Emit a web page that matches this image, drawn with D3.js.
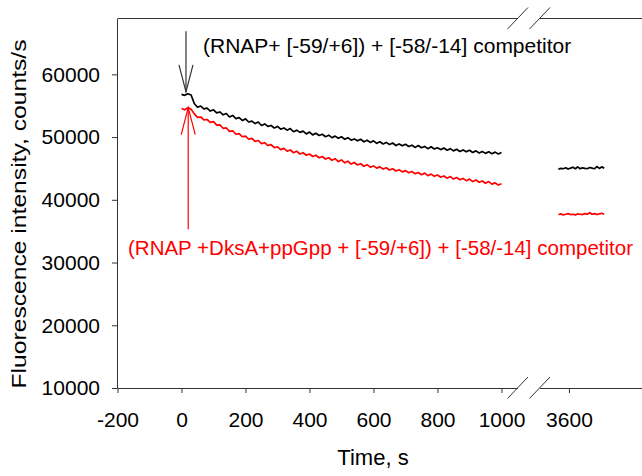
<!DOCTYPE html>
<html>
<head>
<meta charset="utf-8">
<script src="https://cdn.jsdelivr.net/npm/d3@7"></script>
<style>
  body { margin: 0; background: #fff; }
  text { font-family: "Liberation Sans", Arial, sans-serif; }
</style>
</head>
<body>
<div id="chart"></div>
<script>
// sample times for the main trace (every 10 s) and the late-time trace
let main_times = d3.range(0, 1001, 10);
let tail_times = [3567, 3575, 3582, 3590, 3597, 3605, 3612, 3620, 3627, 3635,
                  3642, 3650, 3657, 3665, 3672, 3680, 3687, 3695, 3702, 3710];

// (RNAP+ [-59/+6]) + [-58/-14] competitor
let black_main = [56800, 56650, 56900, 56700, 55350, 54750, 54950, 54500, 54600, 54150,
                  54350, 53850, 54000, 53550, 53750, 53200, 53450, 52950, 53100, 52650,
                  52900, 52400, 52550, 52150, 52400, 51850, 52100, 51700, 51850, 51450,
                  51700, 51250, 51450, 51100, 51350, 50850, 51100, 50750, 50950, 50500,
                  50800, 50350, 50600, 50250, 50450, 50050, 50300, 49900, 50150, 49800,
                  50050, 49650, 49900, 49500, 49700, 49400, 49650, 49250, 49500, 49150,
                  49400, 49000, 49250, 48900, 49150, 48800, 49050, 48650, 48900, 48600,
                  48850, 48500, 48700, 48350, 48650, 48300, 48500, 48150, 48450, 48100,
                  48300, 48000, 48250, 47900, 48150, 47800, 48050, 47700, 47950, 47650,
                  47900, 47550, 47800, 47450, 47700, 47400, 47650, 47350, 47600, 47300,
                  47550];
let black_tail = [44900, 45000, 44950, 45100, 44900, 45050, 45200, 44950, 45250, 44950,
                  45100, 45000, 44950, 45150, 45050, 44950, 45300, 45000, 45250, 45050];

// (RNAP +DksA+ppGpp + [-59/+6]) + [-58/-14] competitor
let red_main = [54550, 54350, 54700, 54450, 53700, 53150, 53200, 52750, 52800, 52350,
                52450, 51900, 51950, 51400, 51450, 50900, 51000, 50450, 50550, 50050,
                50150, 49650, 49800, 49300, 49450, 48950, 49100, 48650, 48800, 48300,
                48450, 48000, 48200, 47750, 47950, 47500, 47750, 47300, 47500, 47100,
                47300, 46900, 47100, 46700, 46900, 46500, 46700, 46300, 46550, 46100,
                46350, 45900, 46150, 45700, 45950, 45550, 45750, 45350, 45600, 45200,
                45400, 45050, 45250, 44900, 45100, 44750, 44950, 44600, 44800, 44450,
                44650, 44300, 44500, 44150, 44350, 44000, 44250, 43850, 44100, 43750,
                43950, 43600, 43800, 43450, 43700, 43300, 43550, 43200, 43400, 43050,
                43300, 42900, 43150, 42800, 43000, 42650, 42900, 42500, 42700, 42350,
                42550];
let red_tail = [37650, 37750, 37600, 37700, 37800, 37650, 37700, 37600, 37750, 37700,
                37650, 37800, 37700, 37950, 37700, 37800, 37650, 37750, 37850, 37700];

let y_ticks = [10000, 20000, 30000, 40000, 50000, 60000];
let x_ticks_left = [-200, 0, 200, 400, 600, 800, 1000];
let x_ticks_right = [3600];

const width = 642, height = 476;
const axis_color = "#333";

let svg = d3.select("#chart")
    .append("svg")
    .attr("width", width)
    .attr("height", height);

// broken x axis: two linear pieces with the same px/s
let x1 = d3.scaleLinear().domain([-200, 1050]).range([117.5, 517.5]);
let x2 = d3.scaleLinear().domain([3508, 3828]).range([539.5, 642]);
let y = d3.scaleLinear().domain([10000, 68900]).range([388, 18.5]);

// plain hyphen for negatives, like the original
let fmt = d => String(d);

function style_axis(g) {
    g.selectAll("path.domain").attr("stroke", axis_color);
    g.selectAll(".tick line").attr("stroke", axis_color);
    g.selectAll(".tick text")
        .attr("fill", "#000")
        .style("font-size", "21px");
}

// y axis
svg.append("g")
    .attr("transform", "translate(117, 0)")
    .call(d3.axisLeft(y).tickValues(y_ticks).tickFormat(fmt)
        .tickSize(5).tickSizeOuter(0).tickPadding(12))
    .call(style_axis);

// bottom axes
svg.append("g")
    .attr("transform", "translate(0, 388)")
    .call(d3.axisBottom(x1).tickValues(x_ticks_left).tickFormat(fmt)
        .tickSize(5).tickSizeOuter(0).tickPadding(19))
    .call(style_axis);

svg.append("g")
    .attr("transform", "translate(0, 388)")
    .call(d3.axisBottom(x2).tickValues(x_ticks_right).tickFormat(fmt)
        .tickSize(5).tickSizeOuter(0).tickPadding(19))
    .call(style_axis);

// top frame line, broken the same way
[x1, x2].forEach(function(sc) {
    svg.append("line")
        .attr("x1", sc.range()[0]).attr("x2", sc.range()[1])
        .attr("y1", 18.5).attr("y2", 18.5)
        .attr("stroke", axis_color);
});

// break marks
[18.5, 388].forEach(function(yy) {
    [x1.range()[1], x2.range()[0]].forEach(function(xx) {
        svg.append("line")
            .attr("x1", xx - 10).attr("y1", yy + 10.5)
            .attr("x2", xx + 10.5).attr("y2", yy - 11)
            .attr("stroke", axis_color)
            .attr("stroke-width", 1);
    });
});

// traces
let line1 = d3.line().x(d => x1(d[0])).y(d => y(d[1]));
let line2 = d3.line().x(d => x2(d[0])).y(d => y(d[1]));

let traces = [
    { t: main_times, v: black_main, line: line1, color: "#000" },
    { t: tail_times, v: black_tail, line: line2, color: "#000" },
    { t: main_times, v: red_main, line: line1, color: "#ff0000" },
    { t: tail_times, v: red_tail, line: line2, color: "#ff0000" }
];

svg.selectAll("path.trace")
    .data(traces)
    .enter()
    .append("path")
    .attr("class", "trace")
    .attr("d", d => d.line(d.t.map((t, i) => [t, d.v[i]])))
    .attr("fill", "none")
    .attr("stroke", d => d.color)
    .attr("stroke-width", 1.7)
    .attr("stroke-linejoin", "round");

// annotation arrows (open heads)
function arrow(t, from_v, to_v, color) {
    let x = x1(t), ya = y(from_v), yb = y(to_v);
    let dir = yb > ya ? -1 : 1;
    svg.append("line")
        .attr("x1", x).attr("x2", x).attr("y1", ya).attr("y2", yb)
        .attr("stroke", color).attr("stroke-width", 1.2);
    svg.append("path")
        .attr("d", `M${x - 7},${yb + dir * 27}L${x},${yb}L${x + 7},${yb + dir * 27}`)
        .attr("fill", "none")
        .attr("stroke", color)
        .attr("stroke-width", 1.2);
}
arrow(14, 66850, 57200, "#333");
arrow(21, 35300, 54700, "#ff0000");

svg.append("text")
    .attr("x", 203)
    .attr("y", 52.5)
    .style("font-size", "21px")
    .attr("fill", "#000")
    .text("(RNAP+ [-59/+6]) + [-58/-14] competitor");

svg.append("text")
    .attr("x", 128)
    .attr("y", 255)
    .style("font-size", "20.5px")
    .attr("fill", "#ff0000")
    .text("(RNAP +DksA+ppGpp + [-59/+6]) + [-58/-14] competitor");

// axis titles
svg.append("text")
    .attr("transform", "translate(373, 465)")
    .style("text-anchor", "middle")
    .style("font-size", "22px")
    .text("Time, s");

svg.append("text")
    .attr("transform", "translate(26, 214) rotate(-90)")
    .style("text-anchor", "middle")
    .style("font-size", "20px")
    .attr("textLength", 349)
    .attr("lengthAdjust", "spacingAndGlyphs")
    .text("Fluorescence intensity, counts/s");
</script>
</body>
</html>
